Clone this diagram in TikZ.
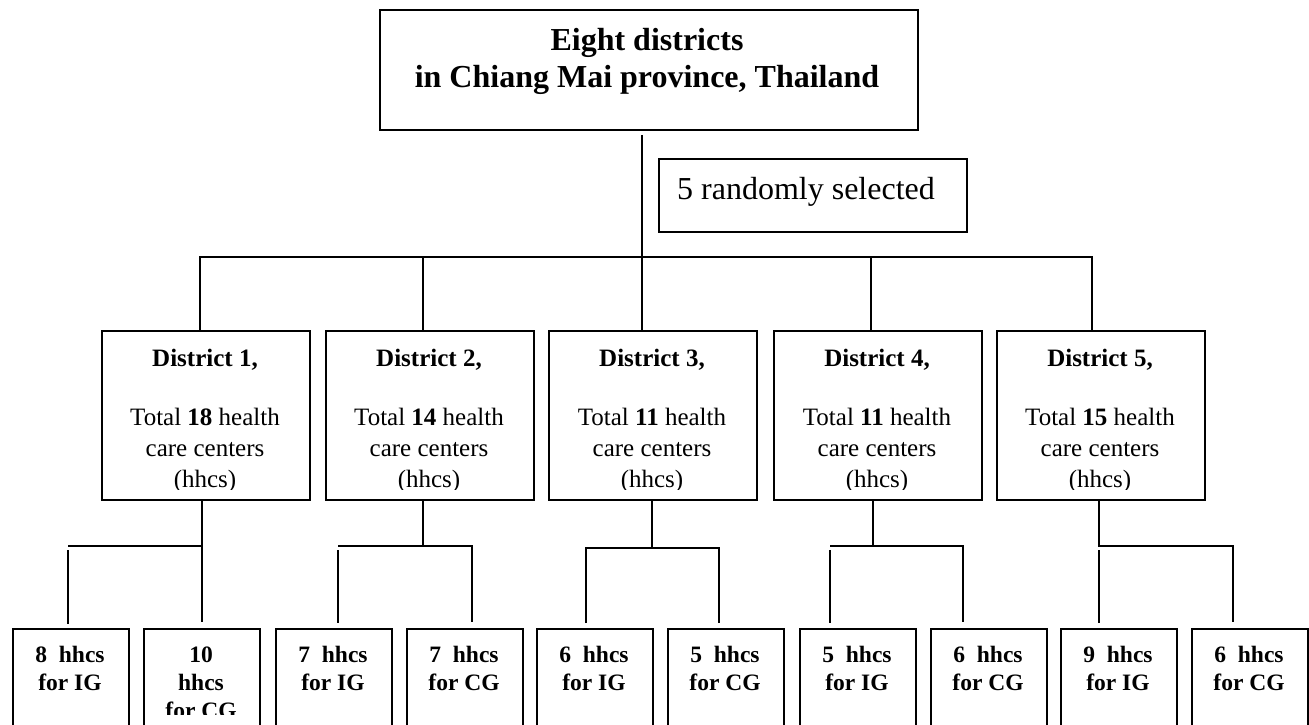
\documentclass[tikz,border=0pt]{standalone}
\usepackage{fontspec}
\setmainfont{Liberation Serif}
\usetikzlibrary{calc}
\begin{document}
\begin{tikzpicture}[x=1pt,y=-1pt,
  frame/.style={draw=black, line width=1.8pt, rectangle, inner sep=0pt, anchor=north west},
  conn/.style={draw=black, line width=1.8pt},
  bigbold/.style={font=\fontsize{32}{37}\selectfont\bfseries, anchor=base, inner sep=0pt},
  bigtext/.style={font=\fontsize{32}{37}\selectfont, anchor=base, inner sep=0pt},
  dtext/.style={font=\fontsize{25}{30}\selectfont, anchor=base, inner sep=0pt},
  stext/.style={font=\fontsize{23.5}{28}\selectfont\bfseries, anchor=base, inner sep=0pt}]
\useasboundingbox (0,0) rectangle (1309,724);
\clip (0,0) rectangle (1309,724);

% top box
\node[frame, minimum width=538pt, minimum height=120pt] (top) at (379,9) {};
\node[bigbold] (t1) at (647,50) {Eight districts};
\node[bigbold] (t2) at (647,87) {in Chiang Mai province, Thailand};

% selection box
\node[frame, line width=1.5pt, minimum width=308pt, minimum height=73pt] (sel) at (658,158) {};
\node[bigtext] (selt) at (806,199) {5 randomly selected};

% district boxes
\foreach \i/\x in {1/101,2/325,3/548,4/773,5/996}{
  \node[frame, minimum width=208pt, minimum height=169pt] (d\i) at (\x,330) {};
}
\begin{scope}
\clip (0,330) rectangle (1309,489);
\foreach \i/\x/\n in {1/101/18,2/325/14,3/548/11,4/773/11,5/996/15}{
  \node[dtext] (dn\i) at ({\x+104},366) {\textbf{District \i,}};
  \node[dtext] (dl\i) at ({\x+104},425) {Total \textbf{\n} health};
  \node[dtext] (dm\i) at ({\x+104},456) {care centers};
  \node[dtext] (dh\i) at ({\x+104},487) {(hhcs)};
}
\end{scope}

% sub boxes
\foreach \k/\x in {1/12,2/143,3/275,4/406,5/536,6/667,7/799,8/930,9/1060,10/1191}{
  \node[frame, minimum width=116pt, minimum height=130pt] (s\k) at (\x,628) {};
}
\foreach \k/\x/\n/\g in {1/12/8/IG,3/275/7/IG,4/406/7/CG,5/536/6/IG,6/667/5/CG,7/799/5/IG,8/930/6/CG,9/1060/9/IG,10/1191/6/CG}{
  \node[stext] (sa\k) at ({\x+58},662) {\n~~hhcs};
  \node[stext] (sb\k) at ({\x+58},690) {for \g};
}
\begin{scope}
\clip (143,628) rectangle (259,714);
\node[stext] (sa2) at (201,662) {10};
\node[stext] (sb2) at (201,690) {hhcs};
\node[stext] (sc2) at (201,718) {for CG};
\end{scope}

% top level connectors
\coordinate (h1) at (200,257);
\coordinate (h2) at (423,257);
\coordinate (h3) at (642,257);
\coordinate (h4) at (871,257);
\coordinate (h5) at (1092,257);
\draw[conn] (h1 |- d1.north) -- (h1) -- (h5) -- (h5 |- d5.north);
\draw[conn] ($(top.south -| h3)+(0,4)$) -- (h3) -- (h3 |- d3.north);
\draw[conn] (h2) -- (h2 |- d2.north);
\draw[conn] (h4) -- (h4 |- d4.north);

% district 1
\coordinate (c1) at (202,546);
\coordinate (l1) at (68,546);
\draw[conn] (d1.south -| c1) -- ($(c1 |- s2.north)+(0,-6)$);
\draw[conn] (c1) -- (l1);
\draw[conn] ($(l1)+(0,4)$) -- ($(l1 |- s1.north)+(0,-4)$);

% district 2
\coordinate (c2) at (423,546);
\coordinate (l2) at (338,546);
\coordinate (r2) at (472,546);
\draw[conn] (d2.south -| c2) -- (c2);
\draw[conn] (l2) -- (r2) -- ($(r2 |- s4.north)+(0,-6)$);
\draw[conn] ($(l2)+(0,4)$) -- ($(l2 |- s3.north)+(0,-5)$);

% district 3
\coordinate (c3) at (652,548);
\coordinate (l3) at (586,548);
\coordinate (r3) at (719,548);
\draw[conn] (d3.south -| c3) -- (c3);
\draw[conn] ($(l3 |- s5.north)+(0,-5)$) -- (l3) -- (r3) -- ($(r3 |- s6.north)+(0,-5)$);

% district 4
\coordinate (c4) at (873,546);
\coordinate (l4) at (830,546);
\coordinate (r4) at (963,546);
\draw[conn] (d4.south -| c4) -- (c4);
\draw[conn] (l4) -- (r4) -- ($(r4 |- s8.north)+(0,-6)$);
\draw[conn] ($(l4)+(0,4)$) -- ($(l4 |- s7.north)+(0,-5)$);

% district 5
\coordinate (c5) at (1099,546);
\coordinate (r5) at (1233,546);
\draw[conn] (d5.south -| c5) -- (c5) -- (r5) -- ($(r5 |- s10.north)+(0,-6)$);
\draw[conn] ($(c5)+(0,4)$) -- ($(c5 |- s9.north)+(0,-5)$);
\end{tikzpicture}
\end{document}
